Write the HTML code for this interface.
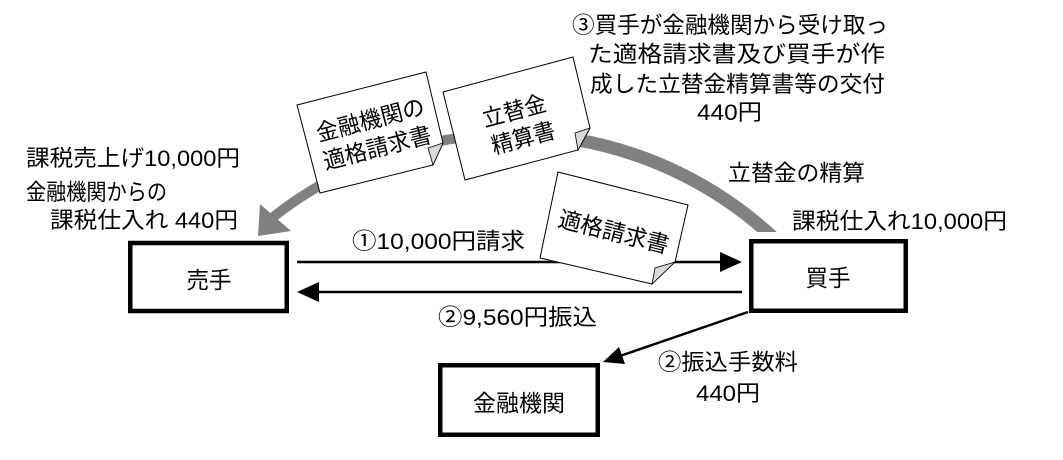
<!DOCTYPE html>
<html>
<head>
<meta charset="utf-8">
<style>
html,body{margin:0;padding:0;background:#fff;}
svg{display:block;}
text{font-family:"Liberation Sans","Noto Sans CJK JP",sans-serif;fill:#000;}
</style>
</head>
<body>
<svg width="1063" height="460" viewBox="0 0 1063 460" xmlns="http://www.w3.org/2000/svg">
<defs>
<clipPath id="cl"><rect x="0" y="0" width="1063" height="232"/></clipPath>
</defs>
<rect x="0" y="0" width="1063" height="460" fill="#fff"/>

<!-- gray curved arrow -->
<g clip-path="url(#cl)">
<path d="M780 244 A386 386 0 0 0 575 139.5" stroke="#808080" stroke-width="13" fill="none"/>
</g>
<path d="M575 139.5 A386 386 0 0 0 270 219.5" stroke="#808080" stroke-width="10" fill="none"/>
<polygon points="258,236 260,204 291,231" fill="#808080"/>

<!-- paper 1 -->
<polygon points="297,105 426,72 443,143 433,165 320,193" fill="#fff" stroke="#000" stroke-width="1"/>
<polygon points="443,143 428,148 433,165" fill="#d9d9d9" stroke="#000" stroke-width="0.8"/>
<text x="370" y="128" font-size="23" text-anchor="middle" textLength="111" lengthAdjust="spacingAndGlyphs" transform="rotate(-14.5 370 119)">金融機関の</text>
<text x="377" y="156" font-size="23" text-anchor="middle" textLength="111" lengthAdjust="spacingAndGlyphs" transform="rotate(-14.5 377 147)">適格請求書</text>

<!-- paper 2 -->
<polygon points="443,92 573,57 590,128 578,150 465,180" fill="#fff" stroke="#000" stroke-width="1"/>
<polygon points="590,128 575,133 578,150" fill="#d9d9d9" stroke="#000" stroke-width="0.8"/>
<text x="514" y="119" font-size="23" text-anchor="middle" textLength="65" lengthAdjust="spacingAndGlyphs" transform="rotate(-15 514 110)">立替金</text>
<text x="523" y="146" font-size="23" text-anchor="middle" textLength="65" lengthAdjust="spacingAndGlyphs" transform="rotate(-15 523 137)">精算書</text>

<!-- arrows between seller and buyer -->
<line x1="297" y1="262" x2="722" y2="262" stroke="#000" stroke-width="2.5"/>
<polygon points="742,262 720,252 720,272" fill="#000"/>
<line x1="318" y1="292" x2="742" y2="292" stroke="#000" stroke-width="2.5"/>
<polygon points="297,292 319,282 319,302" fill="#000"/>

<!-- paper 3 -->
<polygon points="558,172 688,205 675,262 652,284 540,258" fill="#fff" stroke="#000" stroke-width="1"/>
<polygon points="675,262 655,268 652,284" fill="#d9d9d9" stroke="#000" stroke-width="0.8"/>
<text x="614" y="240" font-size="23" text-anchor="middle" textLength="113" lengthAdjust="spacingAndGlyphs" transform="rotate(14 614 231)">適格請求書</text>

<!-- diagonal arrow -->
<line x1="748" y1="312" x2="620" y2="356" stroke="#000" stroke-width="2.5"/>
<polygon points="603,362 619,347 625,364" fill="#000"/>

<!-- boxes -->
<rect x="130.25" y="243" width="156.5" height="68" fill="#fff" stroke="#000" stroke-width="4.5"/>
<rect x="751.25" y="241.25" width="154.5" height="69.5" fill="#fff" stroke="#000" stroke-width="4.5"/>
<rect x="440.25" y="365.25" width="157.5" height="69.5" fill="#fff" stroke="#000" stroke-width="4.5"/>

<text x="209" y="288" font-size="23" text-anchor="middle" textLength="45" lengthAdjust="spacingAndGlyphs">売手</text>
<text x="828" y="286" font-size="23" text-anchor="middle" textLength="45" lengthAdjust="spacingAndGlyphs">買手</text>
<text x="519" y="411" font-size="23" text-anchor="middle" textLength="92" lengthAdjust="spacingAndGlyphs">金融機関</text>

<!-- left labels -->
<text x="26" y="166" font-size="22.5" textLength="214" lengthAdjust="spacingAndGlyphs">課税売上げ10,000円</text>
<text x="26" y="200" font-size="22.5" textLength="141" lengthAdjust="spacingAndGlyphs">金融機関からの</text>
<text x="50" y="228" font-size="22.5" textLength="188" lengthAdjust="spacingAndGlyphs">課税仕入れ 440円</text>

<!-- middle labels -->
<text x="352" y="249" font-size="22.5" textLength="173" lengthAdjust="spacingAndGlyphs">①10,000円請求</text>
<text x="438" y="325" font-size="22.5" textLength="159" lengthAdjust="spacingAndGlyphs">②9,560円振込</text>
<text x="658" y="370" font-size="22.5" textLength="140" lengthAdjust="spacingAndGlyphs">②振込手数料</text>
<text x="696" y="401" font-size="22.5" textLength="64" lengthAdjust="spacingAndGlyphs">440円</text>

<!-- top-right labels -->
<text x="572" y="33" font-size="22.5" textLength="316" lengthAdjust="spacingAndGlyphs">③買手が金融機関から受け取っ</text>
<text x="588" y="62" font-size="22.5" textLength="297" lengthAdjust="spacingAndGlyphs">た適格請求書及び買手が作</text>
<text x="590" y="92" font-size="22.5" textLength="295" lengthAdjust="spacingAndGlyphs">成した立替金精算書等の交付</text>
<text x="697" y="120" font-size="22.5" textLength="65" lengthAdjust="spacingAndGlyphs">440円</text>

<text x="728" y="181" font-size="22.5" textLength="137" lengthAdjust="spacingAndGlyphs">立替金の精算</text>
<text x="792" y="229" font-size="22.5" textLength="215" lengthAdjust="spacingAndGlyphs">課税仕入れ10,000円</text>
</svg>
</body>
</html>
